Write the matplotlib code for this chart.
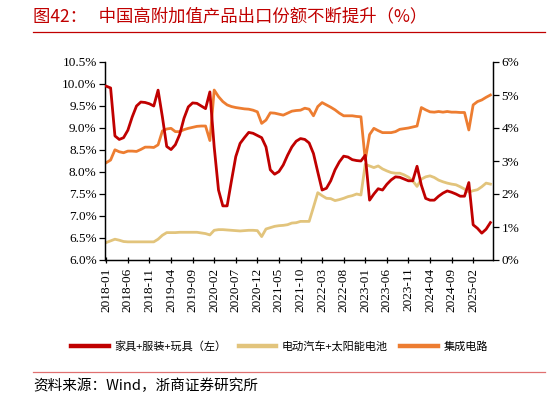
import matplotlib
matplotlib.use("Agg")
import matplotlib.pyplot as plt
import numpy as np
from matplotlib.lines import Line2D
from matplotlib.ticker import FuncFormatter, MultipleLocator

CJK = ["Noto Sans CJK SC", "DejaVu Sans"]
SERIF = ["Liberation Serif", "DejaVu Serif"]

# monthly, 2018-01 .. 2025-06
months = [f"{y}-{m:02d}" for y in range(2018, 2026) for m in range(1, 13)][:90]

# 家具+服装+玩具 (left axis, %)
furniture = [
    9.95, 9.91, 8.82, 8.74, 8.78, 8.95, 9.25, 9.50, 9.59, 9.58,
    9.55, 9.50, 9.86, 9.25, 8.58, 8.51, 8.62, 8.85, 9.22, 9.48,
    9.57, 9.56, 9.50, 9.44, 9.82, 8.57, 7.59, 7.23, 7.23, 7.80,
    8.35, 8.65, 8.78, 8.90, 8.88, 8.83, 8.78, 8.57, 8.05, 7.95,
    8.01, 8.16, 8.38, 8.57, 8.70, 8.76, 8.74, 8.66, 8.42, 8.00,
    7.59, 7.63, 7.80, 8.05, 8.23, 8.36, 8.34, 8.28, 8.26, 8.25,
    8.38, 7.36, 7.50, 7.62, 7.59, 7.72, 7.82, 7.89, 7.88, 7.84,
    7.80, 7.80, 8.13, 7.70, 7.40, 7.36, 7.36, 7.45, 7.52, 7.57,
    7.54, 7.50, 7.45, 7.45, 7.76, 6.80, 6.72, 6.61, 6.70, 6.85,
]

# 电动汽车+太阳能电池 (right axis, %)
ev_solar = [
    0.53, 0.58, 0.63, 0.60, 0.56, 0.55, 0.55, 0.55, 0.55, 0.55,
    0.55, 0.55, 0.63, 0.75, 0.83, 0.83, 0.83, 0.84, 0.84, 0.84,
    0.84, 0.84, 0.82, 0.80, 0.76, 0.90, 0.92, 0.92, 0.91, 0.90,
    0.89, 0.88, 0.89, 0.90, 0.90, 0.89, 0.71, 0.94, 0.98, 1.02,
    1.04, 1.05, 1.07, 1.12, 1.13, 1.17, 1.17, 1.17, 1.60, 2.04,
    1.95, 1.87, 1.86, 1.80, 1.83, 1.87, 1.92, 1.95, 2.00, 1.97,
    2.90, 2.85, 2.80, 2.85, 2.76, 2.70, 2.65, 2.63, 2.63, 2.58,
    2.51, 2.40, 2.23, 2.45, 2.52, 2.55, 2.50, 2.42, 2.37, 2.33,
    2.30, 2.28, 2.22, 2.15, 2.06, 2.10, 2.13, 2.22, 2.33, 2.30,
]

# 集成电路 (right axis, %)
chips = [
    2.95, 3.03, 3.34, 3.28, 3.25, 3.30, 3.30, 3.29, 3.35, 3.42,
    3.42, 3.41, 3.49, 3.91, 3.97, 3.99, 3.89, 3.89, 3.95, 3.99,
    4.02, 4.05, 4.06, 4.06, 3.62, 5.15, 4.95, 4.80, 4.70, 4.65,
    4.62, 4.60, 4.58, 4.57, 4.54, 4.49, 4.14, 4.24, 4.46, 4.45,
    4.42, 4.39, 4.45, 4.51, 4.53, 4.54, 4.60, 4.57, 4.37, 4.65,
    4.77, 4.70, 4.63, 4.55, 4.45, 4.37, 4.37, 4.37, 4.35, 4.34,
    3.03, 3.80, 3.99, 3.92, 3.86, 3.86, 3.86, 3.89, 3.96, 3.98,
    4.00, 4.03, 4.06, 4.62, 4.55, 4.49, 4.48, 4.50, 4.48, 4.50,
    4.48, 4.48, 4.47, 4.47, 3.94, 4.70, 4.80, 4.85, 4.93, 5.00,
]

labels = ["家具+服装+玩具（左）", "电动汽车+太阳能电池", "集成电路"]
colors = ["#C00000", "#E2C47C", "#ED7D31"]

title = "图42：   中国高附加值产品出口份额不断提升（%）"
source = "资料来源：Wind，浙商证券研究所"

fig = plt.figure(figsize=(5.48, 4.03), dpi=100)
W, H = 548, 403

ax = fig.add_axes([105 / W, 1 - 260 / H, (493 - 105) / W, (260 - 62) / H])
ax2 = ax.twinx()

x = np.arange(len(months))
ax2.plot(x, chips, color=colors[2], lw=2.0, zorder=2)
ax2.plot(x, ev_solar, color=colors[1], lw=2.0, zorder=2)
ax.plot(x, furniture, color=colors[0], lw=2.0, zorder=3)
ax.set_zorder(ax2.get_zorder() + 1)
ax.patch.set_visible(False)

ax.set_xlim(-0.3, 89.6)
ax.set_ylim(6.0, 10.5)
ax2.set_ylim(0, 6)
ax.yaxis.set_major_locator(MultipleLocator(0.5))
ax2.yaxis.set_major_locator(MultipleLocator(1))
ax.yaxis.set_major_formatter(FuncFormatter(lambda v, p: f"{v:.1f}%"))
ax2.yaxis.set_major_formatter(FuncFormatter(lambda v, p: f"{v:.0f}%"))

ticks = list(range(0, len(months), 5))
ax.set_xticks(ticks)
ax.set_xticklabels([months[i] for i in ticks], rotation=90)

for a in (ax, ax2):
    a.spines["top"].set_visible(False)
    for s in ("left", "right", "bottom"):
        a.spines[s].set_linewidth(0.9)
        a.spines[s].set_color("black")
    a.tick_params(axis="y", direction="out", length=4, width=0.9, pad=2,
                  labelsize=9.5)
ax.tick_params(axis="x", direction="inout", length=5, width=0.9, pad=3,
               labelsize=9.5)
for lab in ax.get_xticklabels() + ax.get_yticklabels() + ax2.get_yticklabels():
    lab.set_family(SERIF)

handles = [Line2D([], [], color=c, lw=3.2) for c in colors]
fig.legend(handles, labels, loc="center", bbox_to_anchor=(0.51, 1 - 346 / H),
           ncol=3, frameon=False, handlelength=3.4, handletextpad=0.5,
           columnspacing=1.1, prop={"family": CJK, "size": 8})

fig.text(33 / W, 1 - 16 / H, title, color="#C00000", fontsize=12.5,
         family=CJK, va="center", ha="left")
fig.add_artist(Line2D([33 / W, 545 / W], [1 - 32 / H] * 2, color="#C00000",
                      lw=0.9, transform=fig.transFigure))
fig.add_artist(Line2D([33 / W, 545 / W], [1 - 372 / H] * 2, color="#E07070",
                      lw=0.9, transform=fig.transFigure))
fig.text(33 / W, 1 - 386 / H, source, color="black", fontsize=10.5,
         family=CJK, va="center", ha="left")

fig.savefig("out.png", dpi=100)
